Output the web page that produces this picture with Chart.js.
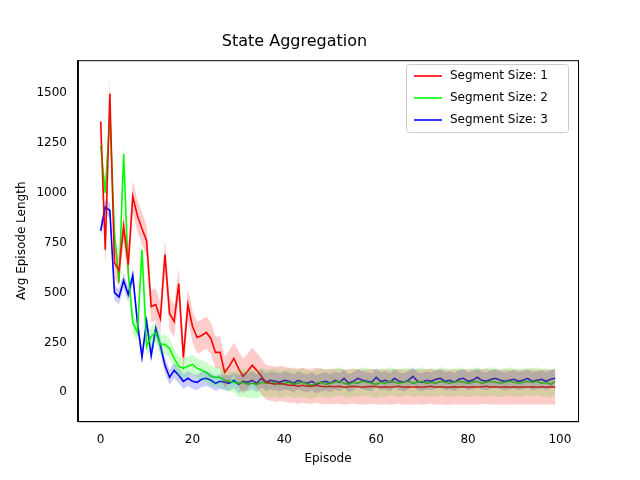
<!DOCTYPE html>
<html><head><script src="https://cdn.jsdelivr.net/npm/chart.js"></script>
<style>body{margin:0;background:#fff}#w{width:640px;height:480px}</style></head>
<body><div id="w"><canvas id="c" width="640" height="480"></canvas></div>
<script>
const seriesNames=["Segment Size: 1","Segment Size: 2","Segment Size: 3"];
const red=[1358,715,1497,650,610,830,640,982,885,820,760,430,440,370,690,395,355,545,175,440,330,275,285,300,270,200,200,100,130,170,120,80,105,135,110,80,50,
45,40,45,40,35,35,30,35,30,30,35,30,28,30,28,30,25,28,30,28,25,28,30,28,25,28,25,28,30,25,28,25,28,25,28,30,25,28,25,25,28,25,28,25,28,25,28,30,25,28,25,28,25,28,25,28,25,28,25,28,25,28,25];
const green=[1236,1000,1390,800,550,1195,600,350,300,715,230,280,300,240,240,220,170,130,120,130,140,120,110,100,80,75,75,60,55,50,45,50,40,45,40,50,45,
45,50,40,45,50,40,45,50,40,35,45,50,40,45,50,55,45,40,50,45,55,50,45,40,50,45,55,50,45,50,55,45,50,55,45,50,45,55,50,45,50,55,50,45,50,55,45,50,55,50,45,50,55,50,45,50,55,50,55,45,50,40,55];
const blue=[810,928,912,500,478,560,490,585,350,178,355,185,320,235,135,75,110,85,55,70,55,50,65,70,60,45,55,50,45,60,40,55,50,60,45,70,50,
60,55,50,60,55,45,60,50,45,55,40,50,55,45,60,50,70,45,55,70,60,55,50,75,55,60,50,70,55,50,60,80,55,50,60,55,65,70,55,60,50,65,70,55,60,75,60,55,65,70,60,55,60,65,55,60,70,55,60,65,55,65,70];
const xTicks=[0,20,40,60,80,100];
const yTicks=[0,250,500,750,1000,1250,1500];
// band half-widths: [early (episodes < 30), late]
const redSpread=[80,88], greenSpread=[50,70], blueSpread=[38,45];
const colors=['#ff0000','#00ff00','#0000ff'];
const fills=['rgba(255,0,0,0.2)','rgba(0,255,0,0.2)','rgba(0,0,255,0.2)'];
const all=[red,green,blue], spreads=[redSpread,greenSpread,blueSpread];
const ds=[];
all.forEach((s,k)=>{
  const sp=i=>i<30?spreads[k][0]:spreads[k][1];
  ds.push({label:'_u'+k,data:s.map((v,i)=>({x:i,y:v+sp(i)})),borderWidth:0,pointRadius:0,fill:false,borderColor:'transparent'});
  ds.push({label:'_l'+k,data:s.map((v,i)=>({x:i,y:v-sp(i)})),borderWidth:0,pointRadius:0,fill:'-1',backgroundColor:fills[k],borderColor:'transparent'});
});
all.forEach((s,k)=>ds.push({label:seriesNames[k],data:s.map((v,i)=>({x:i,y:v})),borderColor:colors[k],backgroundColor:colors[k],borderWidth:1.6,pointRadius:0,fill:false,tension:0}));
const frame={id:'frame',afterDraw(ch){
  const a=ch.chartArea,c=ch.ctx;c.save();
  c.strokeStyle='#000';c.lineWidth=1;c.strokeRect(a.left+0.5,a.top+0.5,a.right-a.left,a.bottom-a.top);
  // legend
  const bx=406,by=64,bw=162,bh=68;
  c.fillStyle='rgba(255,255,255,0.8)';c.strokeStyle='#cccccc';
  c.beginPath();c.roundRect(bx+0.5,by+0.5,bw,bh,3);c.fill();c.stroke();
  c.font='12px DejaVu Sans';c.textBaseline='middle';
  seriesNames.forEach((n,k)=>{const y=by+12+k*22;
    c.strokeStyle=colors[k];c.lineWidth=1.6;c.beginPath();c.moveTo(bx+8,y);c.lineTo(bx+36,y);c.stroke();
    c.fillStyle='#000';c.fillText(n,bx+44,y);});
  c.restore();}};
new Chart(document.getElementById('c'),{type:'line',data:{datasets:ds},plugins:[frame],
options:{responsive:false,animation:false,
layout:{padding:{left:11,right:62,top:0,bottom:10}},
plugins:{title:{display:true,text:'State Aggregation',color:'#000',font:{size:16,family:'DejaVu Sans',weight:'normal'},padding:{top:32,bottom:9}},
legend:{display:false},tooltip:{enabled:false}},
scales:{x:{type:'linear',min:-4.95,max:103.95,grid:{display:false,drawTicks:true},border:{color:'#000'},title:{display:true,text:'Episode',color:'#000',font:{size:12,family:'DejaVu Sans'},padding:{top:2}},
ticks:{color:'#000',font:{size:12,family:'DejaVu Sans'},callback:v=>String(v)},afterBuildTicks:a=>{a.ticks=xTicks.map(v=>({value:v}));}},
y:{min:-145,max:1665,grid:{display:false},border:{color:'#000'},title:{display:true,text:'Avg Episode Length',color:'#000',font:{size:12,family:'DejaVu Sans'}},
ticks:{color:'#000',font:{size:12,family:'DejaVu Sans'},callback:v=>String(v)},afterBuildTicks:a=>{a.ticks=yTicks.map(v=>({value:v}));}}}}});
</script></body></html>
